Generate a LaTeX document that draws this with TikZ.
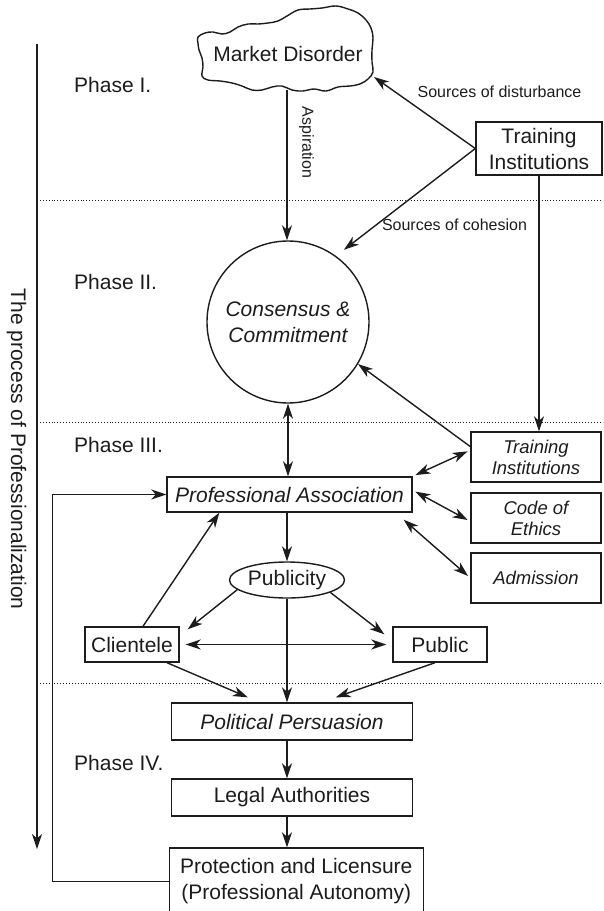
\documentclass[tikz,border=0pt]{standalone}
\usepackage{fontspec}
\setmainfont{Liberation Sans}
\usetikzlibrary{arrows.meta,shapes.geometric,calc}
\definecolor{ink}{RGB}{30,27,28}
\begin{document}
\begin{tikzpicture}[x=1pt,y=-1pt,
  >={Stealth[length=15pt,width=10pt,inset=4.5pt]},
  every node/.style={text=ink, font=\fontsize{21}{26}\selectfont, inner sep=0pt},
  conn/.style={draw=ink, line width=1.4pt},
  boxnode/.style={draw=ink, line width=1.4pt, rectangle, align=center},
  smallbox/.style={boxnode, minimum width=130pt, minimum height=50pt,
                   font=\fontsize{18.5}{21}\selectfont\itshape},
  divider/.style={draw=ink, line width=0.9pt, dotted},
  lbl/.style={font=\fontsize{16}{19}\selectfont},
  phase/.style={anchor=west}
]
\clip (0,0) rectangle (603,911);

% phase separators
\draw[divider] (37,200.5) -- (603,200.5);
\draw[divider] (37,422) -- (603,422);
\draw[divider] (37,683.5) -- (603,683.5);

% process axis
\coordinate (procTop) at (37,44);
\coordinate (procEnd) at (37,849);
\draw[conn,->] (procTop) -- (procEnd);
\node[rotate=-90] (proc) at (16.5,449) {The process of Professionalization};

% phase labels
\node[phase] (ph1) at (74,85) {Phase I.};
\node[phase] (ph2) at (74,281.5) {Phase II.};
\node[phase] (ph3) at (74,445) {Phase III.};
\node[phase] (ph4) at (74,763) {Phase IV.};

% market disorder cloud
\draw[ink, line width=1.4pt] plot[smooth cycle, tension=0.65] coordinates {
  (198,37) (205,33) (213,32) (222,34) (230,32) (238,27) (248,24) (258,24)
  (268,23) (278,21) (287,16) (298,10) (310,9) (322,8) (336,6) (348,9)
  (358,13) (366,20) (371,28) (373,38) (372,50) (372,62) (373,72) (368,79)
  (360,84) (350,86) (338,87) (326,91) (314,89) (303,91) (292,90) (282,86)
  (272,87) (262,90) (252,90) (242,86) (232,83) (220,81) (208,80) (202,76)
  (203,67) (202,58) (199,50) (198,43)};
\node (md) at (288,54) {Market Disorder};
\coordinate (mdS) at (287,90);
\coordinate (mdE) at (374,77);

% nodes
\node[boxnode, minimum width=126pt, minimum height=53pt] (ti) at (539,148.5) {Training\\Institutions};
\node[circle, draw=ink, line width=1.4pt, minimum size=162pt, align=center,
      font=\fontsize{21}{26}\selectfont\itshape] (cc) at (288,322) {Consensus \&\\Commitment};
\node[smallbox] (ti2) at (536,457) {Training\\Institutions};
\node[smallbox] (coe) at (536,518) {Code of\\Ethics};
\node[smallbox] (adm) at (536,578) {Admission};
\node[boxnode, minimum width=245pt, minimum height=35pt,
      font=\fontsize{21}{26}\selectfont\itshape] (pa) at (289.5,494.5) {Professional Association};
\node[ellipse, draw=ink, line width=1.4pt, minimum width=115pt, minimum height=36pt] (pub) at (287,580) {Publicity};
\node[boxnode, minimum width=94pt, minimum height=35pt] (cl) at (132,644.5) {Clientele};
\node[boxnode, minimum width=94pt, minimum height=35pt] (pu) at (440,644.5) {Public};
\node[boxnode, minimum width=241pt, minimum height=37pt,
      font=\fontsize{21}{26}\selectfont\itshape] (pp) at (292,721.5) {Political Persuasion};
\node[boxnode, minimum width=241pt, minimum height=37pt] (la) at (292,797.5) {Legal Authorities};
\node[boxnode, minimum width=254pt, minimum height=67pt] (prot) at (296.3,881.5) {Protection and Licensure\\(Professional Autonomy)};

% edge labels
\node[lbl] (sdist) at (499.5,92) {Sources of disturbance};
\node[lbl] (scoh) at (454.5,225) {Sources of cohesion};
\node[lbl, rotate=-90] (asp) at (306.5,142.5) {Aspiration};

% connectors
\draw[conn,->] (mdS) -- (mdS |- cc.north);
\draw[conn,->] (ti.west) -- (mdE);
\draw[conn,->,shorten >=10pt] (ti.west) -- (cc.54);
\draw[conn,->] (ti.south) -- (ti.south |- ti2.north);
\draw[conn,->] (ti2.171) -- (cc.-31);
\draw[conn,<->] (cc.south) -- (cc.south |- pa.north);

\draw[conn,<->,shorten <=3pt,shorten >=3pt] (pa.north east) -- (ti2.174);
\draw[conn,<->,shorten <=3pt,shorten >=3pt] (pa.2) -- (coe.183);
\draw[conn,<->,shorten >=3pt] ($(pa.south east)+(-9,7)$) -- (adm.west);

\draw[conn,->] (pa.south -| pub) -- (pub.north);
\draw[conn,->] ($(cl.north)+(11,0)$) -- ($(pa.south west)+(53,0)$);
\draw[conn,->] (pub.191) -- ($(cl.north east)+(8,3)$);
\draw[conn,->] (pub.-16) -- ($(pu.north west)+(-8,8)$);
\draw[conn,<->,shorten <=6pt,shorten >=6pt] (cl.east) -- (pu.west);

\draw[conn,->] (pub.south) -- (pub.south |- pp.north);
\draw[conn,->] ($(cl.south)+(35,0)$) -- ($(pp.north west)+(77,-5)$);
\draw[conn,->] ($(pu.south)+(-5,0)$) -- ($(pp.north west)+(165,-5)$);

\draw[conn,->] (pub |- pp.south) -- (pub |- la.north);
\draw[conn,->] (pub |- la.south) -- (pub |- prot.north);
\draw[conn,->] (prot.west) -- ++(-116,0) |- (pa.west);
\end{tikzpicture}
\end{document}
